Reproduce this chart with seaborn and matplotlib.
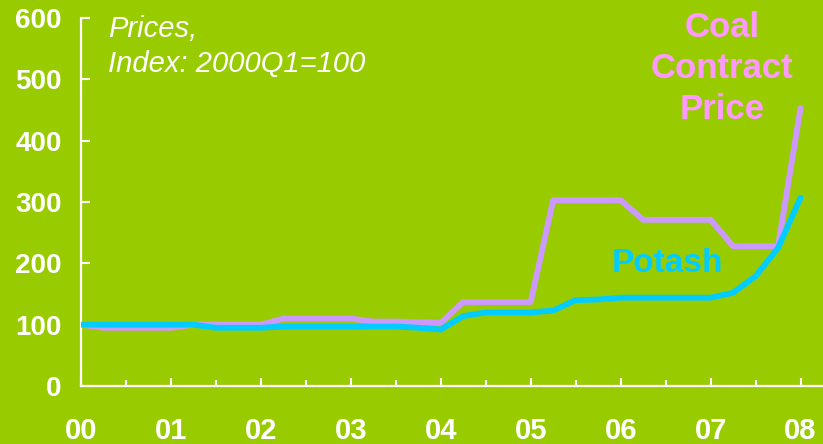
import numpy as np
import matplotlib
matplotlib.use("Agg")
import matplotlib.pyplot as plt
import seaborn as sns

# quarterly index, 2000Q1 .. 2008Q1 (2000Q1 = 100)
coal = [100, 95, 95, 95, 95, 100, 100, 100, 100, 110, 110, 110, 110, 105, 105, 104,
        103, 137, 137, 137, 137, 303, 303, 303, 303, 271, 271, 271, 271, 228, 228, 228,
        453]
potash = [100, 100, 100, 100, 100, 100, 95, 95, 95, 97, 97, 97, 97, 97, 97, 95,
          92, 114, 120, 120, 120, 123, 140, 141, 144, 144, 144, 144, 144, 152, 179, 225,
          307]
year_labels = ["00", "01", "02", "03", "04", "05", "06", "07", "08"]
y_ticks = [0, 100, 200, 300, 400, 500, 600]

bg = "#99CC00"
coal_color = "#CC99FF"
potash_color = "#00CCFF"

sns.set_style("white")
plt.rcParams["font.family"] = ["Liberation Sans", "DejaVu Sans"]

fig = plt.figure(figsize=(8.23, 4.44), dpi=100, facecolor=bg)
ax = fig.add_axes([81 / 823, 58 / 444, 1 - 81 / 823, 368 / 444])
ax.set_facecolor(bg)

q = np.arange(len(coal))
sns.lineplot(x=q, y=coal, color=coal_color, linewidth=4.2, ax=ax,
             solid_capstyle="round", zorder=2)
sns.lineplot(x=q, y=potash, color=potash_color, linewidth=4.2, ax=ax,
             solid_capstyle="round", zorder=3)

ax.set_xlim(0, 33)
ax.set_ylim(0, 600)
ax.set_xticks(np.arange(0, 33, 4))
ax.set_xticklabels(year_labels)
ax.set_xticks(np.arange(2, 33, 4), minor=True)
ax.set_yticks(y_ticks)
ax.set_yticklabels([str(v) for v in y_ticks])

for side in ["top", "right"]:
    ax.spines[side].set_visible(False)
for side in ["left", "bottom"]:
    ax.spines[side].set_color("white")
    ax.spines[side].set_linewidth(1.6)

ax.tick_params(axis="y", left=True, direction="in", length=6.5, width=1.5, color="white",
               labelcolor="white", labelsize=20, pad=14)
ax.tick_params(axis="x", which="major", bottom=True, direction="in", length=6, width=1.5,
               color="white", labelcolor="white", labelsize=21, pad=22)
ax.tick_params(axis="x", which="minor", bottom=True, direction="in", length=4.5, width=1.5,
               color="white")
for lab in ax.get_xticklabels() + ax.get_yticklabels():
    lab.set_fontweight("bold")

fig.text(108 / 823, 1 - 15 / 444, "Prices,\nIndex: 2000Q1=100", color="white",
         fontsize=21, fontstyle="italic", ha="left", va="top", linespacing=1.3)
fig.text(722 / 823, 1 - 11 / 444, "Coal\nContract\nPrice", color="#FF99FF",
         fontsize=25, fontweight="bold", ha="center", va="top", linespacing=1.3)
fig.text(667 / 823, 1 - 263 / 444, "Potash", color=potash_color,
         fontsize=24, fontweight="bold", ha="center", va="center")

ax.set_xlabel("")
ax.set_ylabel("")
fig.savefig("out.png", dpi=100, facecolor=bg)
